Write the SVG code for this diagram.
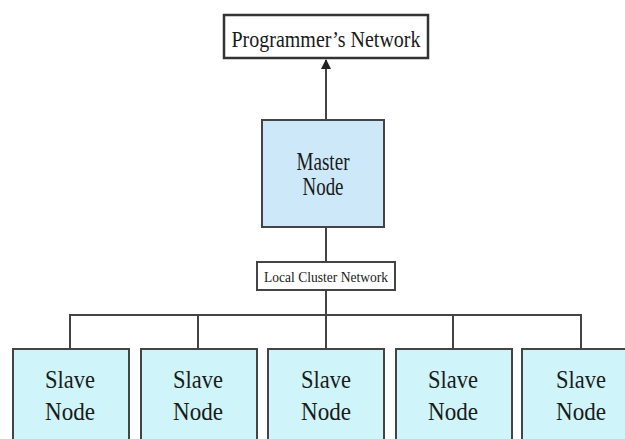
<svg xmlns="http://www.w3.org/2000/svg" width="625" height="439" viewBox="0 0 625 439">
<defs>
<style>
.t{font-family:"Liberation Serif","Times New Roman",serif;fill:#1a1a1a;text-anchor:middle}
.ln{stroke:#444;stroke-width:2;fill:none}
.slave{fill:#cff5fa;stroke:#444;stroke-width:2}
.st{font-size:26px}
</style>
<marker id="ah" viewBox="0 0 10 10" refX="9" refY="5" markerWidth="5" markerHeight="5" orient="auto" markerUnits="strokeWidth">
<path d="M0,0 L10,5 L0,10 z" fill="#222"/>
</marker>
</defs>
<rect width="625" height="439" fill="#fff"/>
<g id="connectors">
<line class="ln" x1="326" y1="120" x2="326" y2="60" marker-end="url(#ah)"/>
<line class="ln" x1="326" y1="227" x2="326" y2="262"/>
<line class="ln" x1="326" y1="290" x2="326" y2="315"/>
<polyline class="ln" points="70,349 70,315 581,315 581,349"/>
<line class="ln" x1="198" y1="315" x2="198" y2="349"/>
<line class="ln" x1="326" y1="315" x2="326" y2="349"/>
<line class="ln" x1="453" y1="315" x2="453" y2="349"/>
</g>
<g id="programmers-network">
<rect x="224" y="15" width="204" height="43" fill="#fff" stroke="#333" stroke-width="2.5"/>
<text class="t" x="326" y="47" font-size="23" textLength="189" lengthAdjust="spacingAndGlyphs">Programmer’s Network</text>
</g>
<g id="master-node">
<rect x="262" y="120" width="122" height="107" fill="#cde9f9" stroke="#444" stroke-width="2"/>
<text class="t" x="323" y="170" font-size="25" textLength="53" lengthAdjust="spacingAndGlyphs">Master</text>
<text class="t" x="323" y="195" font-size="25" textLength="41" lengthAdjust="spacingAndGlyphs">Node</text>
</g>
<g id="local-cluster-network">
<rect x="257" y="262" width="138" height="28" fill="#fff" stroke="#444" stroke-width="2"/>
<text class="t" x="326" y="282" font-size="15" textLength="124" lengthAdjust="spacingAndGlyphs">Local Cluster Network</text>
</g>
<g id="slave-1">
<rect class="slave" x="13" y="349" width="116" height="100"/>
<text class="t st" x="70" y="388" textLength="50" lengthAdjust="spacingAndGlyphs">Slave</text>
<text class="t st" x="70" y="420" textLength="50" lengthAdjust="spacingAndGlyphs">Node</text>
</g>
<g id="slave-2">
<rect class="slave" x="141" y="349" width="116" height="100"/>
<text class="t st" x="198" y="388" textLength="50" lengthAdjust="spacingAndGlyphs">Slave</text>
<text class="t st" x="198" y="420" textLength="50" lengthAdjust="spacingAndGlyphs">Node</text>
</g>
<g id="slave-3">
<rect class="slave" x="268" y="349" width="116" height="100"/>
<text class="t st" x="326" y="388" textLength="50" lengthAdjust="spacingAndGlyphs">Slave</text>
<text class="t st" x="326" y="420" textLength="50" lengthAdjust="spacingAndGlyphs">Node</text>
</g>
<g id="slave-4">
<rect class="slave" x="396" y="349" width="116" height="100"/>
<text class="t st" x="453" y="388" textLength="50" lengthAdjust="spacingAndGlyphs">Slave</text>
<text class="t st" x="453" y="420" textLength="50" lengthAdjust="spacingAndGlyphs">Node</text>
</g>
<g id="slave-5">
<rect class="slave" x="522" y="349" width="116" height="100"/>
<text class="t st" x="581" y="388" textLength="50" lengthAdjust="spacingAndGlyphs">Slave</text>
<text class="t st" x="581" y="420" textLength="50" lengthAdjust="spacingAndGlyphs">Node</text>
</g>
</svg>
